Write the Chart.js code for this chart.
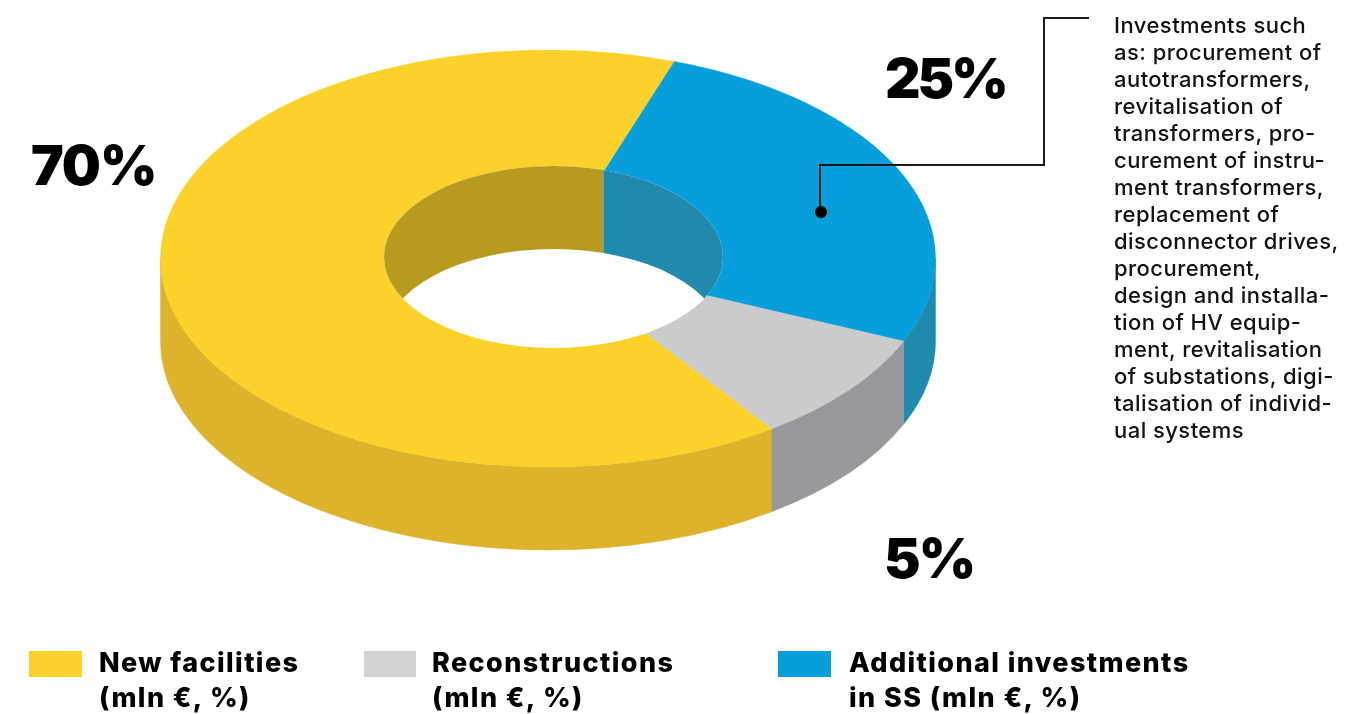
<!DOCTYPE html>
<html lang="en">
<head>
    <meta charset="UTF-8">
    <title>Investments</title>
    <script src="https://cdn.jsdelivr.net/npm/chart.js"></script>
    <style>
        html, body { margin: 0; padding: 0; background: #fff; overflow: hidden; }
        #wrap { position: relative; width: 1370px; height: 714px; font-family: Inter, sans-serif; color: #000; }
        #chart { position: absolute; left: 0; top: 0; }
        .pct { position: absolute; font-weight: 900; font-size: 55px; line-height: 60px; letter-spacing: -1px; }
        .pct0 { left: 31px; top: 135px; }
        .pct1 { left: 885px; top: 48px; letter-spacing: -3px; }
        .pct2 { left: 884px; top: 528px; letter-spacing: -2px; }
        #note { position: absolute; left: 1114px; top: 12px; font-size: 22px; font-weight: 500; line-height: 27px; letter-spacing: 0.45px; color: #111; white-space: nowrap; }
        .swatch { position: absolute; top: 651px; height: 26px; }
        .sw0 { left: 29px; width: 53px; }
        .sw1 { left: 364px; width: 52px; }
        .sw2 { left: 778px; width: 53px; }
        .leg { position: absolute; top: 645px; font-weight: 800; font-size: 27px; line-height: 35px; letter-spacing: 1.4px; white-space: nowrap; }
        .leg0 { left: 99px; }
        .leg1 { left: 432px; }
        .leg2 { left: 849px; }
    </style>
</head>
<body>
<div id="wrap">
    <canvas id="chart" width="1370" height="714"></canvas>
    <div id="note"></div>
</div>
<script>
    // slices in clockwise order, shares as drawn in the picture
    var categories = ['New facilities', 'Additional investments in SS', 'Reconstructions'];
    var shares = [65.1, 26.2, 8.7];
    var topColors = ['#fcd12a', '#069fdc', '#c9cbcd'];
    var wallColors = ['#dcb32a', '#1f8aae', '#97989b'];
    var holeWallColors = ['#b89b1e', '#1f8aae'];

    var pctLabels = ['70%', '25%', '5%'];
    var legendLines = [['New facilities', '(mln €, %)'], ['Reconstructions', '(mln €, %)'], ['Additional investments', 'in SS (mln €, %)']];
    var legendColors = ['#fcd12a', '#d1d3d4', '#069fdc'];
    var noteLines = ['Investments such', 'as: procurement of', 'autotransformers,', 'revitalisation of', 'transformers, pro-',
        'curement of instru-', 'ment transformers,', 'replacement of', 'disconnector drives,', 'procurement,',
        'design and installa-', 'tion of HV equip-', 'ment, revitalisation', 'of substations, digi-', 'talisation of individ-', 'ual systems'];

    var squash = 0.538;
    var depth = 83;
    // the hole in the picture sits a little off the centre of the ring
    var hole = { x: 553.5, y: 257, rx: 169.5, ry: 91 };

    var wrap = document.getElementById('wrap');
    document.getElementById('note').innerHTML = noteLines.join('<br>');
    pctLabels.forEach(function(p, i) {
        var d = document.createElement('div');
        d.className = 'pct pct' + i;
        d.textContent = p;
        wrap.appendChild(d);
    });
    legendLines.forEach(function(lines, i) {
        var s = document.createElement('div');
        s.className = 'swatch sw' + i;
        s.style.background = legendColors[i];
        wrap.appendChild(s);
        var t = document.createElement('div');
        t.className = 'leg leg' + i;
        t.innerHTML = lines.join('<br>');
        wrap.appendChild(t);
    });

    // squash the round doughnut into an ellipse
    function squashAround(ctx, arc) {
        ctx.translate(arc.x, arc.y);
        ctx.scale(1, squash);
        ctx.translate(-arc.x, -arc.y);
    }

    function holePath(ctx, shift) {
        ctx.ellipse(hole.x, hole.y + shift, hole.rx, hole.ry, 0, 0, Math.PI * 2);
    }

    var depthPlugin = {
        id: 'depth',
        beforeDatasetsDraw: function(chart) {
            var ctx = chart.ctx;
            var arcs = chart.getDatasetMeta(0).data;

            // outer side wall, only the front half of the ring can be seen
            arcs.forEach(function(arc, i) {
                [0, Math.PI * 2].forEach(function(turn) {
                    var from = Math.max(arc.startAngle, turn);
                    var to = Math.min(arc.endAngle, turn + Math.PI);
                    if (from >= to) return;
                    ctx.save();
                    squashAround(ctx, arc);
                    ctx.fillStyle = wallColors[i];
                    ctx.strokeStyle = wallColors[i];
                    ctx.lineWidth = 0.6;
                    ctx.beginPath();
                    ctx.arc(arc.x, arc.y, arc.outerRadius, from, to);
                    ctx.arc(arc.x, arc.y + depth / squash, arc.outerRadius, to, from, true);
                    ctx.closePath();
                    ctx.fill();
                    ctx.stroke();
                    ctx.restore();
                });
            });

            ctx.save();
            squashAround(ctx, arcs[0]);
        },
        afterDatasetsDraw: function(chart) {
            var ctx = chart.ctx;
            var arcs = chart.getDatasetMeta(0).data;
            ctx.restore();

            // hole: white where you see through, inner wall above it
            ctx.save();
            ctx.beginPath();
            holePath(ctx, 0);
            ctx.clip();
            ctx.fillStyle = '#fff';
            ctx.fillRect(hole.x - hole.rx - 2, hole.y - hole.ry - 2, hole.rx * 2 + 4, hole.ry * 2 + 4);

            // the wall colour changes below the point where the blue slice starts
            var blue = arcs[1];
            var split = blue.x + hole.rx * Math.cos(blue.startAngle);
            ctx.beginPath();
            ctx.rect(hole.x - hole.rx - 2, hole.y - hole.ry - 2, hole.rx * 2 + 4, hole.ry * 2 + 4);
            holePath(ctx, depth);
            ctx.clip('evenodd');
            ctx.fillStyle = holeWallColors[0];
            ctx.fillRect(hole.x - hole.rx - 2, hole.y - hole.ry - 2, split - hole.x + hole.rx + 2, hole.ry * 2 + 4);
            ctx.fillStyle = holeWallColors[1];
            ctx.fillRect(split, hole.y - hole.ry - 2, hole.x + hole.rx + 2 - split, hole.ry * 2 + 4);
            ctx.restore();

            // callout line
            ctx.save();
            ctx.strokeStyle = '#1a1a1a';
            ctx.lineWidth = 2;
            ctx.beginPath();
            ctx.moveTo(1089, 18);
            ctx.lineTo(1044, 18);
            ctx.lineTo(1044, 165);
            ctx.lineTo(820, 165);
            ctx.lineTo(820, 212);
            ctx.stroke();
            ctx.fillStyle = '#000';
            ctx.beginPath();
            ctx.arc(821, 212, 6, 0, Math.PI * 2);
            ctx.fill();
            ctx.restore();
        }
    };

    new Chart(document.getElementById('chart').getContext('2d'), {
        type: 'doughnut',
        data: {
            labels: categories,
            datasets: [{
                data: shares,
                backgroundColor: topColors,
                borderColor: topColors,
                borderWidth: 0.6,
                clip: false
            }]
        },
        options: {
            responsive: false,
            animation: false,
            rotation: 144.7,
            radius: 387.5,
            cutout: '41%',
            layout: { padding: { left: 0, top: 0, right: 274, bottom: 197 } },
            plugins: { legend: { display: false }, tooltip: { enabled: false } }
        },
        plugins: [depthPlugin]
    });
</script>
</body>
</html>
